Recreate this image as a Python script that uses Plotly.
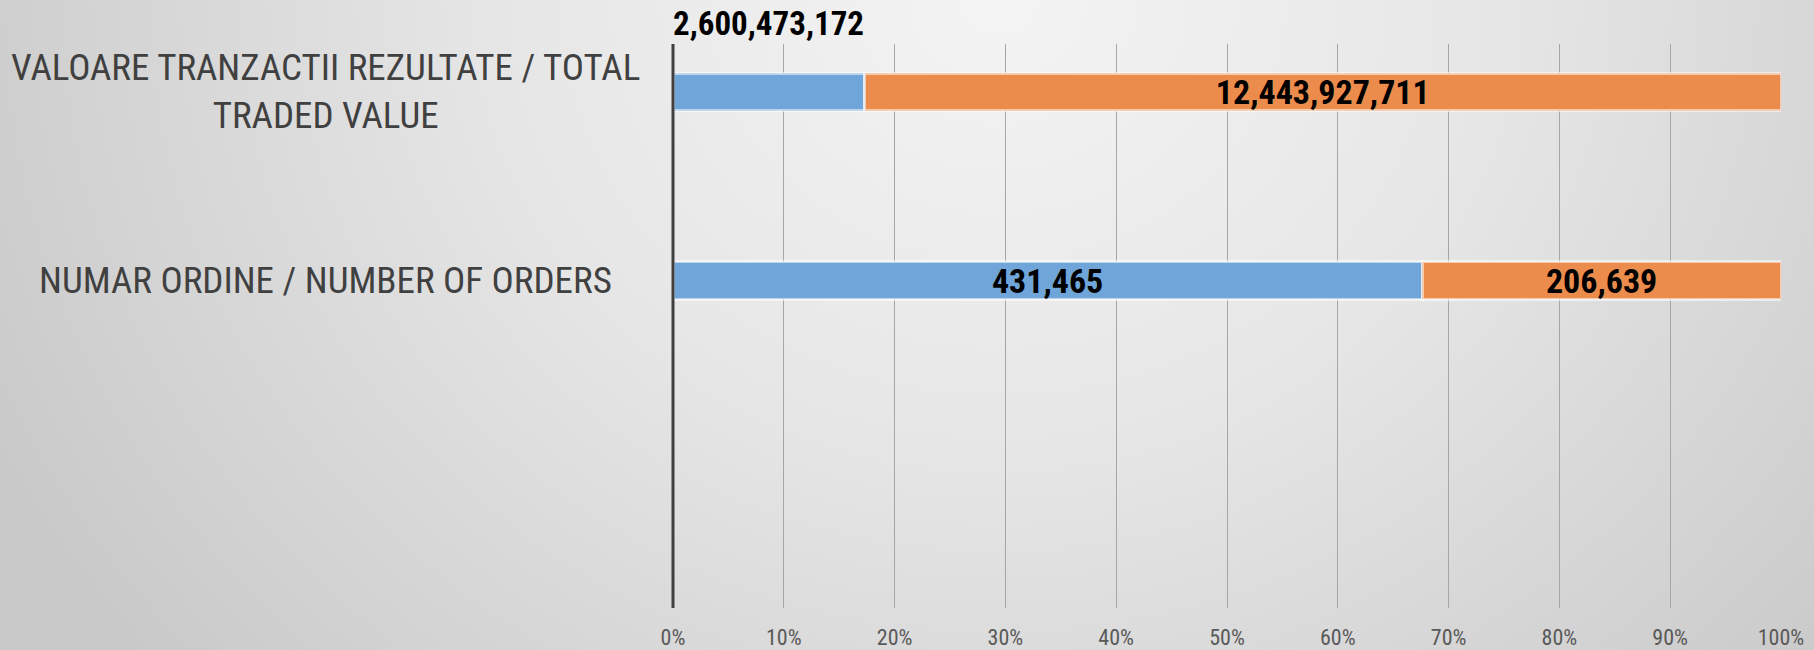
import base64
import plotly.graph_objects as go

# ---- data ----
categories = ["NUMAR ORDINE / NUMBER OF ORDERS",
              "VALOARE TRANZACTII REZULTATE / TOTAL TRADED VALUE"]
category_labels = ["NUMAR ORDINE / NUMBER OF ORDERS",
                   "VALOARE TRANZACTII REZULTATE / TOTAL<br>TRADED VALUE"]
series_blue = [431465, 2600473172]
series_orange = [206639, 12443927711]
x_ticks = [0, 10, 20, 30, 40, 50, 60, 70, 80, 90, 100]
x_tick_labels = ["0%", "10%", "20%", "30%", "40%", "50%", "60%", "70%", "80%", "90%", "100%"]

# ---- layout geometry ----
W, H = 1814, 650
ML, MR, MT, MB = 673, 33, 44, 42
PW, PH = W - ML - MR, H - MT - MB

FONT = "Roboto Condensed, Liberation Sans Narrow, Arial Narrow, Liberation Sans, sans-serif"


def fmt(v):
    return f"{v:,}"


blue_text = [fmt(series_blue[0]), ""]
orange_text = [fmt(v) for v in series_orange]

label_font = dict(family=FONT, size=34, color="black", weight="bold")

fig = go.Figure()
fig.add_trace(go.Bar(
    y=categories, x=series_blue, orientation="h", name="blue",
    marker=dict(color="#6fa5d9", line=dict(color="rgba(255,255,255,0.55)", width=3)),
    text=blue_text, textposition="inside", insidetextanchor="middle",
    constraintext="none", textfont=label_font,
    width=0.2, hoverinfo="skip",
))
fig.add_trace(go.Bar(
    y=categories, x=series_orange, orientation="h", name="orange",
    marker=dict(color="#ec8c4c", line=dict(color="rgba(255,255,255,0.55)", width=3)),
    text=orange_text, textposition="inside", insidetextanchor="middle",
    constraintext="none", textfont=label_font,
    width=0.2, hoverinfo="skip",
))

# label of the small blue segment, placed above the chart
share_top = series_blue[1] / (series_blue[1] + series_orange[1]) * 100
fig.add_annotation(
    x=share_top / 2, xref="x", y=1 + 21 / PH, yref="paper",
    text=fmt(series_blue[1]), showarrow=False, xanchor="center", yanchor="middle",
    font=dict(family=FONT, size=33, color="black", weight="bold"),
)

# category labels (centered, multi-line)
for cat, lab in zip(categories, category_labels):
    fig.add_annotation(
        x=(325 - ML) / PW, xref="paper", y=cat, yref="y",
        text=lab, showarrow=False, xanchor="center", yanchor="middle", align="center",
        font=dict(family=FONT, size=37, color="#404040"),
    )

# background gradient
svg = f'''<svg xmlns="http://www.w3.org/2000/svg" width="{W}" height="{H}" viewBox="0 0 {W} {H}" preserveAspectRatio="none">
<defs><radialGradient id="g" cx="{0.55*W}" cy="0" r="{0.62*W}" gradientUnits="userSpaceOnUse"
 gradientTransform="translate({0.55*W} 0) scale(1 0.9) translate({-0.55*W} 0)">
<stop offset="0" stop-color="#f4f4f4"/><stop offset="0.45" stop-color="#e6e6e6"/>
<stop offset="1" stop-color="#c9c9c9"/></radialGradient></defs>
<rect width="{W}" height="{H}" fill="url(#g)"/></svg>'''
src = "data:image/svg+xml;base64," + base64.b64encode(svg.encode()).decode()
fig.add_layout_image(dict(
    source=src, xref="paper", yref="paper",
    x=-ML / PW, y=1 + MT / PH, sizex=W / PW, sizey=H / PH,
    sizing="stretch", xanchor="left", yanchor="top", layer="below",
))

fig.update_layout(
    width=W, height=H,
    margin=dict(l=ML, r=MR, t=MT, b=MB),
    barmode="stack", barnorm="percent",
    paper_bgcolor="#d6d6d6", plot_bgcolor="rgba(0,0,0,0)",
    showlegend=False,
    xaxis=dict(range=[0, 100], tickmode="array", tickvals=x_ticks, ticktext=x_tick_labels,
               showgrid=True, gridcolor="#a6a6a6", gridwidth=1,
               zeroline=False, showline=False, automargin=False,
               tickfont=dict(family=FONT, size=22, color="#595959"),
               ticklabelstandoff=14, fixedrange=True),
    yaxis=dict(type="category", categoryorder="array", categoryarray=categories,
               range=[-1.735, 1.254], showticklabels=False, showgrid=False,
               zeroline=False, showline=False, automargin=False, fixedrange=True),
    shapes=[dict(type="line", xref="paper", yref="paper", x0=0, x1=0, y0=0, y1=1,
                 line=dict(color="#404040", width=3), layer="above")],
)

fig.write_html("out.html", config={"displayModeBar": False},
               post_script="document.body.style.margin='0';document.body.style.padding='0';")
